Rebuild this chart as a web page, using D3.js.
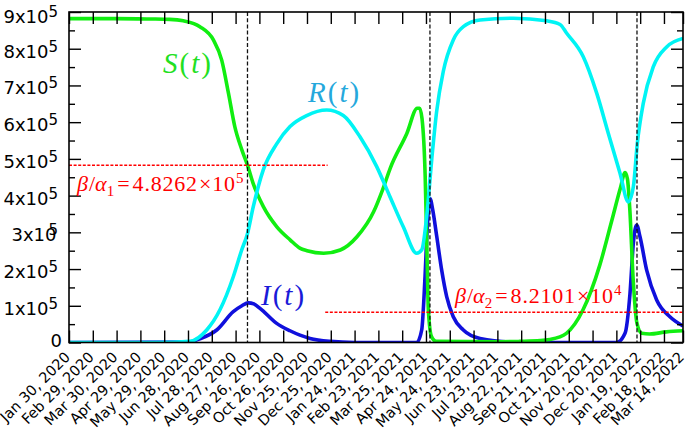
<!DOCTYPE html>
<html><head><meta charset="utf-8">
<script src="https://cdn.jsdelivr.net/npm/d3@7"></script>
<style>
body{margin:0;background:#fff;}
svg{display:block;}
</style></head><body>
<svg id="chart" width="685" height="429"></svg>
<script>
// ---------- data ----------
const tickLabels = ["Jan 30, 2020","Feb 29, 2020","Mar 30, 2020","Apr 29, 2020","May 29, 2020","Jun 28, 2020",
  "Jul 28, 2020","Aug 27, 2020","Sep 26, 2020","Oct 26, 2020","Nov 25, 2020","Dec 25, 2020",
  "Jan 24, 2021","Feb 23, 2021","Mar 25, 2021","Apr 24, 2021","May 24, 2021","Jun 23, 2021",
  "Jul 23, 2021","Aug 22, 2021","Sep 21, 2021","Oct 21, 2021","Nov 20, 2021","Dec 20, 2021",
  "Jan 19, 2022","Feb 18, 2022","Mar 14, 2022"];
const yMajorTicks = [0,1e5,2e5,3e5,4e5,5e5,6e5,7e5,8e5,9e5];
const yMinorTicks = [0.5e5,1.5e5,2.5e5,3.5e5,4.5e5,5.5e5,6.5e5,7.5e5,8.5e5];

// days since Jan 30, 2020
const sDays = [0,60,102,127,144,165,182,192.5,201,209,218,225,232,245,262,279,291,300,321,342,363,384,396,405,426,439,442,445,449,451,453,457,463,543,568,594,606,627,648,669,684,695,701,704,707,711,716,722,732,753,774];
const sVals = [8.82e5,8.82e5,8.81e5,8.80e5,8.76e5,8.60e5,8.24e5,7.69e5,6.79e5,5.88e5,5.24e5,4.83e5,4.34e5,3.70e5,3.15e5,2.79e5,2.57e5,2.50e5,2.43e5,2.52e5,2.88e5,3.56e5,4.20e5,4.75e5,5.70e5,6.38e5,6.38e5,6.10e5,4.52e5,2.71e5,0.89e5,0.16e5,0.03e5,0.02e5,0.03e5,0.05e5,0.08e5,0.25e5,0.89e5,2.10e5,3.30e5,4.20e5,4.63e5,4.45e5,3.61e5,1.79e5,0.52e5,0.25e5,0.23e5,0.29e5,0.32e5];

const iDays = [0,150,165,186.2,207.1,218,226,233,240.8,261.8,278.6,291.2,303.8,329,360,438.3,444.6,448.8,451.7,455.1,458.5,463.5,469.8,476.1,484.4,497.1,518.1,560,600,690.4,700.9,707.2,711.4,715.6,719.8,728.2,740.8,757.5,774];
const iVals = [0,0.01e5,0.1e5,0.34e5,0.84e5,1.0e5,1.08e5,1.05e5,0.93e5,0.52e5,0.32e5,0.2e5,0.11e5,0.03e5,0.0,0.0,0.34e5,1.79e5,3.15e5,3.92e5,3.61e5,2.9e5,1.97e5,1.25e5,0.70e5,0.34e5,0.11e5,0.01e5,0,0,0.25e5,1.34e5,2.70e5,3.20e5,2.88e5,1.97e5,1.16e5,0.70e5,0.45e5];

const rDays = [0,102,130,152.5,173.6,190.3,207.1,217.7,224.8,232.3,244.9,261.8,278.6,299.6,324.9,345.8,366.8,387.9,404.6,421.4,438.3,444.6,450.9,457.2,463.5,471.8,484.4,497.1,518.1,560.1,602.2,619,627.4,648.3,665.2,679.8,694.6,705,711.4,716.4,723.9,736.6,753.4,774];
const rVals = [0,0,0.005e5,0.03e5,0.34e5,0.89e5,1.79e5,2.52e5,2.95e5,3.70e5,4.70e5,5.41e5,5.88e5,6.18e5,6.33e5,6.18e5,5.60e5,4.79e5,3.97e5,3.15e5,2.43e5,2.52e5,3.43e5,4.97e5,6.30e5,7.38e5,8.24e5,8.60e5,8.78e5,8.83e5,8.76e5,8.66e5,8.42e5,7.78e5,6.79e5,5.70e5,4.61e5,3.83e5,4.24e5,5.42e5,6.51e5,7.51e5,8.05e5,8.28e5];

const vLineDays = [225, 455, 716];
const thresholds = [4.8262e5, 8.2101e4];
const thresholdSpans = [[0, 326], [323, 774]];

// ---------- scales ----------
const parse = d3.utcParse("%b %d, %Y");
const t0 = parse(tickLabels[0]);
const tickDays = tickLabels.map(l => d3.utcDay.count(t0, parse(l)));
const totalDays = tickDays[tickDays.length - 1];

const L = 69, R = 683, T = 12, B = 342.5;
const x = d3.scaleLinear().domain([0, totalDays]).range([L, R]);
const y = d3.scaleLinear().domain([0, 9e5]).range([B, T]);

const svg = d3.select("#chart");
svg.append("rect").attr("width",685).attr("height",429).attr("fill","#fff");

svg.append("clipPath").attr("id","clip").append("rect")
  .attr("x",L).attr("y",T).attr("width",R-L).attr("height",B-T);

const line = d3.line().x(d => x(d[0])).y(d => y(d[1])).curve(d3.curveMonotoneX);
const plot = svg.append("g").attr("clip-path","url(#clip)");

const series = [
  {days:iDays, vals:iVals, color:"#1010dc"},
  {days:sDays, vals:sVals, color:"#11ee11"},
  {days:rDays, vals:rVals, color:"#00f4f4"}
];
series.forEach(s => {
  plot.append("path").datum(s.days.map((d,i)=>[d, s.vals[i]]))
    .attr("d", line).attr("fill","none").attr("stroke", s.color)
    .attr("stroke-width", 3.6).attr("stroke-linejoin","round");
});

// red thresholds
thresholds.forEach((v,i) => {
  plot.append("line").attr("x1", x(thresholdSpans[i][0])).attr("x2", x(thresholdSpans[i][1]))
    .attr("y1", y(v)).attr("y2", y(v)).attr("stroke","#ff0000").attr("stroke-width",1.5)
    .attr("stroke-dasharray","3,1.6");
});
// vertical dashed
vLineDays.forEach(d => {
  plot.append("line").attr("x1", x(d)).attr("x2", x(d)).attr("y1", T).attr("y2", B)
    .attr("stroke","#111").attr("stroke-width",1.3).attr("stroke-dasharray","4,2.2");
});

// ---------- axes ----------
function styleAxis(g){ g.select(".domain").remove(); g.selectAll(".tick line").attr("stroke","#000").attr("stroke-width",1.4); g.selectAll("text").remove(); }
svg.append("g").attr("transform",`translate(0,${B})`).call(d3.axisBottom(x).tickValues(tickDays).tickSize(-12)).call(styleAxis);
svg.append("g").attr("transform",`translate(0,${T})`).call(d3.axisTop(x).tickValues(tickDays).tickSize(-12)).call(styleAxis);
svg.append("g").attr("transform",`translate(${L},0)`).call(d3.axisLeft(y).tickValues(yMajorTicks).tickSize(-12)).call(styleAxis);
svg.append("g").attr("transform",`translate(${L},0)`).call(d3.axisLeft(y).tickValues(yMinorTicks).tickSize(-6)).call(styleAxis);
svg.append("g").attr("transform",`translate(${R},0)`).call(d3.axisRight(y).tickValues(yMajorTicks).tickSize(-12)).call(styleAxis);
svg.append("g").attr("transform",`translate(${R},0)`).call(d3.axisRight(y).tickValues(yMinorTicks).tickSize(-6)).call(styleAxis);
svg.append("rect").attr("x",L).attr("y",T).attr("width",R-L).attr("height",B-T)
  .attr("fill","none").attr("stroke","#000").attr("stroke-width",1.6);

// y labels
const sans = "'DejaVu Sans', sans-serif";
yMajorTicks.forEach(v => {
  const n = Math.round(v/1e5);
  const t = svg.append("text").attr("font-family",sans).attr("font-size",18).attr("fill","#000")
    .attr("text-anchor","end");
  if (n === 0) {
    t.attr("x", 62).attr("y", y(v)+4).text("0");
  } else {
    t.attr("x", 58).attr("y", Math.max(y(v)+9, 22.5));
    t.append("tspan").text(n + "x10");
    t.append("tspan").attr("font-size",15).attr("dy",-6).attr("dx", n===3 ? -8 : 0).text("5");
  }
});
// x labels
tickLabels.forEach((lab,i) => {
  svg.append("text").attr("font-family",sans).attr("font-size",14.5).attr("fill","#000")
    .attr("text-anchor","end")
    .attr("transform",`translate(${x(tickDays[i])+2},358) rotate(-45)`).text(lab);
});

// ---------- annotations ----------
const serif = "'Liberation Serif', 'DejaVu Serif', serif";
function curveLabel(px, py, letter, color){
  const t = svg.append("text").attr("x",px).attr("y",py).attr("font-family",serif)
    .attr("font-size",29).attr("fill",color).attr("letter-spacing",2);
  t.append("tspan").attr("font-style","italic").text(letter);
  t.append("tspan").text("(");
  t.append("tspan").attr("font-style","italic").text("t");
  t.append("tspan").text(")");
}
curveLabel(163, 73, "S", "#22e022");
curveLabel(308, 102, "R", "#25a8dc");
curveLabel(261, 305, "I", "#1a1ad8");

function mathLabel(px, py, sub, num, exp){
  const t = svg.append("text").attr("x",px).attr("y",py).attr("font-family",serif)
    .attr("font-size",22).attr("fill","#ff0000");
  t.append("tspan").attr("font-style","italic").text("β");
  t.append("tspan").attr("dx",1).text("/");
  t.append("tspan").attr("font-style","italic").text("α");
  t.append("tspan").attr("font-size",15).attr("dy",5).text(sub);
  t.append("tspan").attr("dy",-5).attr("dx",3).text("=");
  t.append("tspan").attr("dx",3).attr("letter-spacing",0.8).text(num);
  t.append("tspan").attr("dx",1).text("×");
  t.append("tspan").attr("dx",1).attr("letter-spacing",0.8).text("10");
  t.append("tspan").attr("font-size",15).attr("dy",-8).text(exp);
}
mathLabel(77, 190.5, "1", "4.8262", "5");
mathLabel(455, 303, "2", "8.2101", "4");
</script>
</body></html>
